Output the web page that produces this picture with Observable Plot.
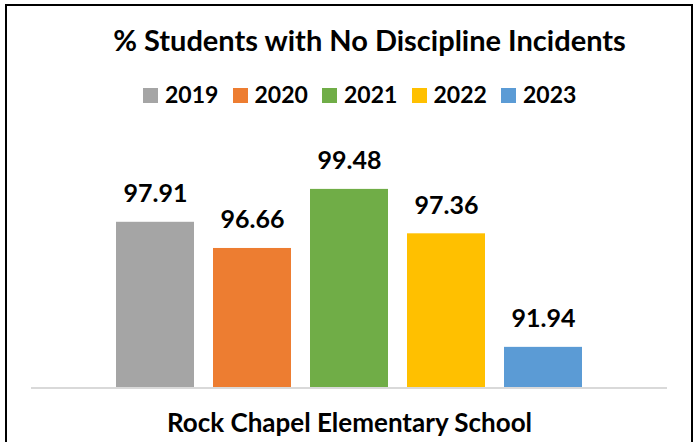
<!DOCTYPE html>
<html><head><meta charset="utf-8">
<script src="https://cdn.jsdelivr.net/npm/d3@7"></script>
<script src="https://cdn.jsdelivr.net/npm/@observablehq/plot@0.6"></script>
<style>
html,body{margin:0;padding:0;background:#fff;}
#wrap{position:relative;width:699px;height:442px;overflow:hidden;font-family:Lato, "Open Sans", sans-serif;color:#000;}
#frame{position:absolute;left:5px;top:4px;width:684px;height:460px;border:2px solid #000;box-sizing:content-box;}
#title{position:absolute;left:369.5px;top:25.3px;transform:translateX(-50%);white-space:nowrap;font-weight:bold;font-size:29px;line-height:29px;}
#legend{position:absolute;left:143px;top:82.6px;display:flex;white-space:nowrap;font-weight:bold;font-size:23px;line-height:23px;}
#legend .item{width:89.5px;display:inline-block;}
#legend .sw{display:inline-block;width:15px;height:15px;margin-right:7px;vertical-align:baseline;}
#chart{position:absolute;left:0;top:0;}
</style>
</head><body>
<div id="wrap">
  <div id="chart"></div>
  <div id="frame"></div>
  <div id="title"></div>
  <div id="legend"></div>
</div>
<script>
const years = ["2019", "2020", "2021", "2022", "2023"];
const values = [97.91, 96.66, 99.48, 97.36, 91.94];
const colors = ["#A5A5A5", "#ED7D31", "#70AD47", "#FFC000", "#5B9BD5"];
const titleText = "% Students with No Discipline Incidents";
const xLabel = "Rock Chapel Elementary School";
const yMin = 90, yMax = 100;

const data = years.map((y, i) => ({year: y, value: values[i]}));

document.getElementById("title").textContent = titleText;
const legend = document.getElementById("legend");
years.forEach((y, i) => {
  const item = document.createElement("span");
  item.className = "item";
  const sw = document.createElement("span");
  sw.className = "sw";
  sw.style.background = colors[i];
  item.appendChild(sw);
  item.appendChild(document.createTextNode(y));
  legend.appendChild(item);
});

const chart = Plot.plot({
  width: 699,
  height: 442,
  marginLeft: 31,
  marginRight: 32,
  marginTop: 178,
  marginBottom: 54.5,
  x: {domain: years, range: [115, 583], paddingInner: 0.2, paddingOuter: 0, axis: null},
  y: {domain: [yMin, yMax], axis: null},
  color: {domain: years, range: colors},
  style: {fontFamily: "Lato, 'Open Sans', sans-serif", background: "transparent", overflow: "visible"},
  marks: [
    Plot.barY(data, {x: "year", y1: yMin, y2: "value", fill: "year"}),
    Plot.ruleY([yMin], {stroke: "#D9D9D9", strokeWidth: 2}),
    Plot.text(data, {x: "year", y: "value", text: d => d.value.toFixed(2), lineAnchor: "bottom", dy: -20, fontSize: 25, fontWeight: "bold", fill: "#000"}),
    Plot.text([xLabel], {text: d => d, frameAnchor: "bottom", lineAnchor: "bottom", dy: 43.5, fontSize: 26, fontWeight: "bold", fill: "#000"})
  ]
});
document.getElementById("chart").appendChild(chart);
</script>
</body></html>
